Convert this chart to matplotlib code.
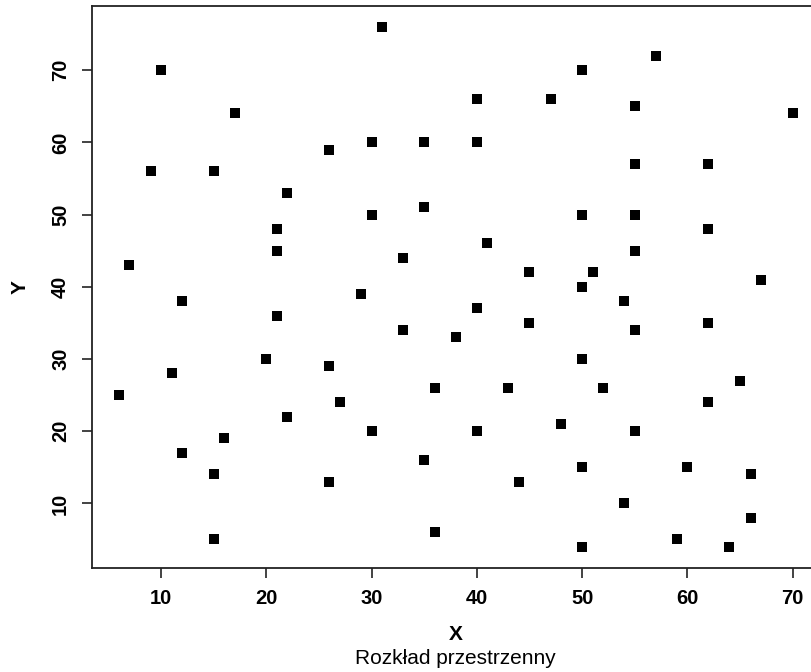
import matplotlib
matplotlib.use("Agg")
import matplotlib.pyplot as plt

x_vals = [31, 10, 57, 50, 40, 47, 17, 55, 70, 26, 30, 35, 40, 9, 15, 55, 62,
          22, 35, 30, 50, 55, 21, 62, 41, 21, 55, 33, 7, 45, 51, 67, 50, 29,
          12, 54, 40, 21, 45, 62, 33, 55, 38, 20, 50, 26, 11, 65, 36, 43, 52,
          6, 27, 62, 22, 48, 16, 30, 40, 55, 12, 35, 50, 60, 15, 26, 44, 66,
          54, 66, 36, 15, 59, 50, 64]
y_vals = [76, 70, 72, 70, 66, 66, 64, 65, 64, 59, 60, 60, 60, 56, 56, 57, 57,
          53, 51, 50, 50, 50, 48, 48, 46, 45, 45, 44, 43, 42, 42, 41, 40, 39,
          38, 38, 37, 36, 35, 35, 34, 34, 33, 30, 30, 29, 28, 27, 26, 26, 26,
          25, 24, 24, 22, 21, 19, 20, 20, 20, 17, 16, 15, 15, 14, 13, 13, 14,
          10, 8, 6, 5, 5, 4, 4]
x_ticks = [10, 20, 30, 40, 50, 60, 70]
y_ticks = [10, 20, 30, 40, 50, 60, 70]
x_label = "X"
y_label = "Y"
subtitle = "Rozkład przestrzenny"

plt.rcParams['font.family'] = ['Liberation Sans', 'DejaVu Sans']

W, H = 812, 672
fig = plt.figure(figsize=(W / 100, H / 100), dpi=100)
fig.patch.set_facecolor('white')

left_px, right_px, top_px, bottom_px = 92, 819.6, 6, 567.5
ax = fig.add_axes([left_px / W, (H - bottom_px) / H,
                   (right_px - left_px) / W, (bottom_px - top_px) / H])

ax.plot(x_vals, y_vals, linestyle='none', marker='s', markersize=7.2,
        color='black', markeredgewidth=0)

def rlim(v):
    lo, hi = min(v), max(v)
    d = (hi - lo) * 0.04
    return lo - d, hi + d

ax.set_xlim(*rlim(x_vals))
ax.set_ylim(*rlim(y_vals))
ax.set_xticks(x_ticks)
ax.set_yticks(y_ticks)
ax.set_xticklabels([str(t) for t in x_ticks], fontsize=14.5, fontweight='bold')
ax.set_yticklabels([str(t) for t in y_ticks], fontsize=14.5, fontweight='bold',
                   rotation=90, va='center')
ax.tick_params(axis='both', direction='out', length=7.2, width=1.2,
               color='#222222')
ax.tick_params(axis='x', pad=8)
ax.tick_params(axis='y', pad=8.5)

for s in ax.spines.values():
    s.set_linewidth(1.3)
    s.set_color('#222222')

fig.text((left_px + right_px) / 2 / W, 1 - 634 / H, x_label, ha='center',
         va='center', fontsize=15, fontweight='bold')
fig.text((left_px + right_px) / 2 / W, 1 - 659 / H, subtitle, ha='center',
         va='center', fontsize=15)
fig.text(20 / W, 1 - 287 / H, y_label, ha='center', va='center',
         fontsize=15, fontweight='bold', rotation=90)

fig.savefig('out.png', dpi=100, facecolor='white')
